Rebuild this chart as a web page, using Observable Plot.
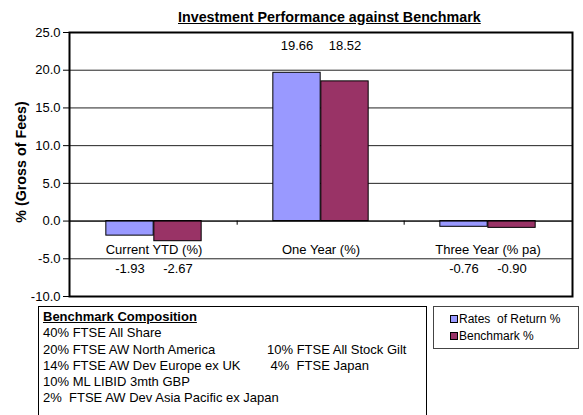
<!DOCTYPE html>
<html>
<head>
<meta charset="utf-8">
<script src="https://cdn.jsdelivr.net/npm/d3@7"></script>
<script src="https://cdn.jsdelivr.net/npm/@observablehq/plot@0.6"></script>
<style>
  html, body { margin: 0; padding: 0; background: #fff; overflow: hidden; }
  body { font-family: "Liberation Sans", Arial, sans-serif; color: #000; }
  #wrap { position: relative; width: 583px; height: 415px; overflow: hidden; }
  #wrap svg { position: absolute; left: 0; top: 0; }
  .title { position: absolute; left: 178px; top: 10px; font-size: 14.3px; font-weight: bold; line-height: 1; text-decoration: underline; white-space: nowrap; }
  .ylabel { position: absolute; left: 21px; top: 162px; font-size: 14.3px; font-weight: bold; white-space: nowrap; transform: translate(-50%, -50%) rotate(-90deg); line-height: 1; }
  .comp { position: absolute; left: 38px; top: 306px; width: 389px; height: 130px; border: 1px solid #000; box-sizing: border-box; font-size: 13px; }
  .comp .inner { position: relative; top: 2px; left: 4px; line-height: 16.3px; }
  .comp .head { font-weight: bold; text-decoration: underline; }
  .comp .row { display: flex; white-space: pre; }
  .comp .c1 { width: 224px; }
  .legend { position: absolute; left: 433px; top: 306px; width: 146px; height: 43px; border: 1px solid #444; box-sizing: border-box; font-size: 12px; }
  .legend .item { position: absolute; left: 16px; display: flex; align-items: center; white-space: pre; line-height: 1; }
  .legend .sw { width: 6px; height: 6px; border: 1px solid #000; margin-right: 1px; }
</style>
</head>
<body>
<div id="wrap"></div>
<script>
// ---- data ----
const chartTitle = "Investment Performance against Benchmark";
const yAxisTitle = "% (Gross of Fees)";
const categories = ["Current YTD (%)", "One Year (%)", "Three Year (% pa)"];
const seriesNames = ["Rates  of Return %", "Benchmark %"];
const ratesOfReturn = [-1.93, 19.66, -0.76];
const benchmark = [-2.67, 18.52, -0.90];
const seriesColors = ["#9999FF", "#993366"];
const yTicks = [-10, -5, 0, 5, 10, 15, 20, 25];
const compositionTitle = "Benchmark Composition";
const compositionLeft = ["40% FTSE All Share", "20% FTSE AW North America", "14% FTSE AW Dev Europe ex UK", "10% ML LIBID 3mth GBP", "2%  FTSE AW Dev Asia Pacific ex Japan"];
const compositionRight = ["", "10% FTSE All Stock Gilt", " 4%  FTSE Japan", "", ""];

// ---- layout ----
const W = 583, H = 415, mL = 69, mR = 11, mT = 32, mB = 119;
const band = (W - mL - mR) / categories.length;
const barW = 48;
const valueSeries = [ratesOfReturn, benchmark];
const tables = valueSeries.map((vals, k) =>
  categories.map((c, i) => ({cat: c, series: seriesNames[k], value: vals[i]})));

const labelY = d => d.value >= 0 ? 23.2 : -6.28;

const insets = [
  {insetLeft: band / 2 - barW, insetRight: band / 2},
  {insetLeft: band / 2, insetRight: band / 2 - barW}
];

const chart = Plot.plot({
  width: W, height: H,
  marginLeft: mL, marginRight: mR, marginTop: mT, marginBottom: mB,
  style: {fontFamily: "'Liberation Sans', Arial, sans-serif", fontSize: "13px", background: "transparent", color: "#000", overflow: "visible"},
  x: {type: "band", domain: categories, padding: 0, axis: null},
  y: {domain: [-10, 25], ticks: yTicks, tickFormat: d => d.toFixed(1), tickSize: 6, tickPadding: 3, label: null, line: true},
  color: {domain: seriesNames, range: seriesColors},
  marks: [
    Plot.ruleY(yTicks, {stroke: "#222", strokeWidth: 1}),
    ...tables.map((t, k) => Plot.barY(t, {x: "cat", y: "value", fill: "series", stroke: "#000", strokeWidth: 1, ...insets[k]})),
    Plot.ruleY([0], {stroke: "#000", strokeWidth: 1}),
    Plot.ruleX(categories.slice(1), {x: d => d, y1: 0, y2: -0.55, dx: -band / 2, stroke: "#000"}),
    ...tables.map((t, k) => Plot.text(t, {x: "cat", y: labelY, text: d => d.value.toFixed(2), dx: (k === 0 ? -1 : 1) * barW / 2, fontSize: 13, fill: "#000"})),
    Plot.text(categories, {x: d => d, y: -3.75, text: d => d, fontSize: 13, fill: "#000"}),
    Plot.frame({stroke: "#000", strokeWidth: 2})
  ]
});

const wrap = document.getElementById("wrap");
wrap.appendChild(chart);

const t = document.createElement("div");
t.className = "title"; t.textContent = chartTitle; wrap.appendChild(t);

const yl = document.createElement("div");
yl.className = "ylabel"; yl.textContent = yAxisTitle; wrap.appendChild(yl);

const comp = document.createElement("div");
comp.className = "comp";
const inner = document.createElement("div");
inner.className = "inner";
const head = document.createElement("div");
head.className = "head"; head.textContent = compositionTitle; inner.appendChild(head);
compositionLeft.forEach((l, i) => {
  const r = document.createElement("div"); r.className = "row";
  const a = document.createElement("span"); a.className = "c1"; a.textContent = l;
  const b = document.createElement("span"); b.textContent = compositionRight[i];
  r.appendChild(a); r.appendChild(b); inner.appendChild(r);
});
comp.appendChild(inner);
wrap.appendChild(comp);

const leg = document.createElement("div");
leg.className = "legend";
seriesNames.forEach((s, k) => {
  const it = document.createElement("div"); it.className = "item";
  it.style.top = (k === 0 ? 6 : 23) + "px";
  const sw = document.createElement("span"); sw.className = "sw"; sw.style.background = seriesColors[k];
  const tx = document.createElement("span"); tx.textContent = s;
  it.appendChild(sw); it.appendChild(tx); leg.appendChild(it);
});
wrap.appendChild(leg);
</script>
</body>
</html>
